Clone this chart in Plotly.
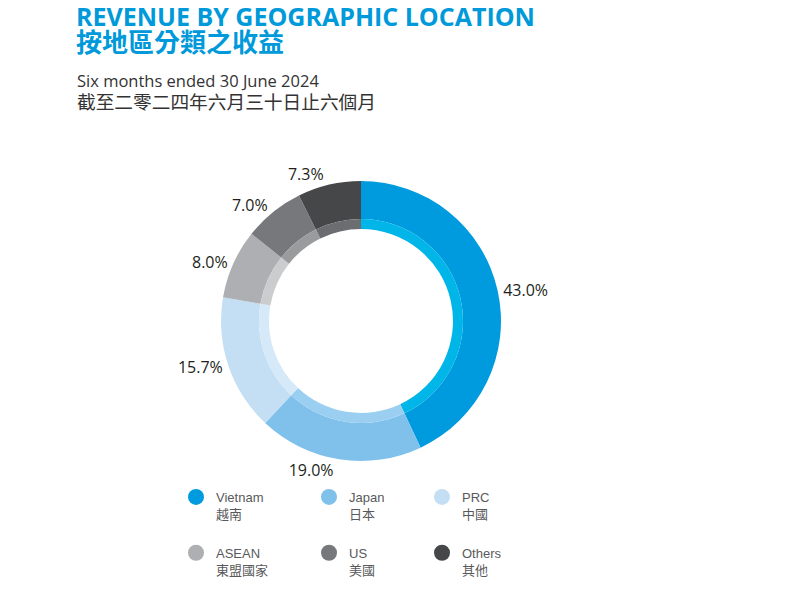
import plotly.graph_objects as go

categories = ["Vietnam", "Japan", "PRC", "ASEAN", "US", "Others"]
categories_zh = ["越南", "日本", "中國", "東盟國家", "美國", "其他"]
shares = [43.0, 19.0, 15.7, 8.0, 7.0, 7.3]
outer_colors = ["#009BDF", "#80C1EC", "#C4DFF4", "#AEAFB2", "#77787B", "#464749"]
inner_colors = ["#00B5E8", "#9BCFF1", "#D5E9F8", "#CBCCCE", "#9A9B9D", "#6C6D70"]
legend_ids = ["legend", "legend2", "legend3", "legend", "legend2", "legend3"]

title_en = "REVENUE BY GEOGRAPHIC LOCATION"
title_zh = "按地區分類之收益"
sub_en = "Six months ended 30 June 2024"
sub_zh = "截至二零二四年六月三十日止六個月"

W, H = 808, 612
cx, cy = 361, 321
r_out, r_mid, r_hole = 140, 102, 92

def dom(r):
    return dict(x=[(cx - r) / W, (cx + r) / W],
                y=[(H - cy - r) / H, (H - cy + r) / H])

label_font = "Open Sans, Noto Sans CJK TC, sans-serif"
legend_font = "Liberation Sans, Noto Sans CJK TC, sans-serif"

fig = go.Figure()
fig.add_trace(go.Pie(
    labels=categories, values=shares, sort=False, direction="clockwise", rotation=0,
    hole=r_mid / r_out, domain=dom(r_out),
    marker=dict(colors=outer_colors, line=dict(width=0)),
    texttemplate="%{value:.1f}%", textposition="outside",
    outsidetextfont=dict(family=label_font, size=16, color="#231F20"),
    showlegend=False, hoverinfo="label+value",
))
fig.add_trace(go.Pie(
    labels=categories, values=shares, sort=False, direction="clockwise", rotation=0,
    hole=r_hole / r_mid, domain=dom(r_mid),
    marker=dict(colors=inner_colors, line=dict(width=0)),
    textinfo="none", showlegend=False, hoverinfo="label+value",
))

for i, (en, zh) in enumerate(zip(categories, categories_zh)):
    fig.add_trace(go.Scatter(
        x=[None], y=[None], mode="markers",
        marker=dict(symbol="circle", size=16, color=outer_colors[i]),
        name=f"{en}<br>{zh}", legend=legend_ids[i], legendgroup=en,
        showlegend=True,
    ))

leg_common = dict(orientation="v", valign="top", tracegroupgap=19,
                  font=dict(family=legend_font, size=13, color="#58595B"),
                  bgcolor="rgba(0,0,0,0)", xanchor="left", yanchor="top",
                  itemsizing="trace")
leg_y = 1 - 482 / H
fig.update_layout(
    width=W, height=H, margin=dict(l=0, r=0, t=0, b=0),
    paper_bgcolor="white", plot_bgcolor="white",
    xaxis=dict(visible=False), yaxis=dict(visible=False),
    legend=dict(x=176 / W, y=leg_y, **leg_common),
    legend2=dict(x=309 / W, y=leg_y, **leg_common),
    legend3=dict(x=422 / W, y=leg_y, **leg_common),
    annotations=[
        dict(text=(f"<span style='font-size:25px'><b>{title_en}</b></span><br>"
                   f"<span style='font-size:26px'><b>{title_zh}</b></span>"),
             x=74 / W, y=1 - 29 / H, align="left",
             xref="paper", yref="paper", xanchor="left", yanchor="middle", showarrow=False,
             font=dict(family="Open Sans, Noto Sans CJK TC, sans-serif", size=20, color="#0099DA")),
        dict(text=(f"<span style='font-size:16.5px'>{sub_en}</span><br>"
                   f"<span style='font-size:18.7px'>{sub_zh}</span>"),
             x=75 / W, y=1 - 91 / H, align="left",
             xref="paper", yref="paper", xanchor="left", yanchor="middle", showarrow=False,
             font=dict(family="Open Sans, Noto Sans CJK TC, sans-serif", size=17, color="#333333")),
    ],
)

fig.write_html("out.html")
